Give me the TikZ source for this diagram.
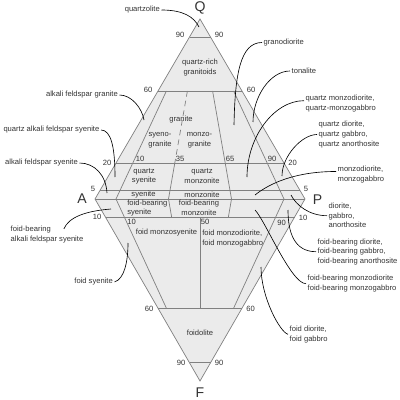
\documentclass[tikz,border=0pt]{standalone}
\usepackage{fontspec}
\setmainfont{Liberation Sans}
\usepackage{xcolor}
\usetikzlibrary{calc}

\definecolor{fieldfill}{HTML}{EBEBEB}
\definecolor{fieldline}{HTML}{808080}
\definecolor{labeltext}{HTML}{333333}

\begin{document}
\begin{tikzpicture}[
  x=0.025cm, y=-0.025cm,
  field/.style={font=\fontsize{5.4}{6.8}\selectfont, text=labeltext, align=center, inner sep=0pt},
  rock/.style={font=\fontsize{5.4}{6.8}\selectfont, text=labeltext, align=left, inner sep=1pt},
  num/.style={font=\fontsize{5.4}{6.8}\selectfont, text=labeltext, inner sep=0pt},
  apex/.style={font=\fontsize{10}{12}\selectfont, text=labeltext, inner sep=0pt},
  bound/.style={draw=fieldline, line width=0.5pt},
  lead/.style={draw=black, line width=0.45pt}
]

\useasboundingbox (0,0) rectangle (400,400);

% Corners of the double triangle
\coordinate (Q) at (200,19);
\coordinate (A) at (95,199);
\coordinate (P) at (305,199);
\coordinate (F) at (200,381);

% P/(A+P) points on the A-P line
\coordinate (b10) at ($(A)!0.10!(P)$);
\coordinate (b35) at ($(A)!0.35!(P)$);
\coordinate (b50) at ($(A)!0.50!(P)$);
\coordinate (b65) at ($(A)!0.65!(P)$);
\coordinate (b90) at ($(A)!0.90!(P)$);

\fill[fieldfill] (Q) -- (A) -- (F) -- (P) -- cycle;

% Q and F levels
\draw[bound] ($(Q)!0.10!(A)$) -- ($(Q)!0.10!(P)$);
\draw[bound] ($(Q)!0.40!(A)$) -- ($(Q)!0.40!(P)$);
\draw[bound] ($(Q)!0.80!(A)$) -- ($(Q)!0.80!(P)$);
\draw[bound] ($(Q)!0.95!(A)$) -- ($(Q)!0.95!(P)$);
\draw[bound] (A) -- (P);
\draw[bound] ($(F)!0.90!(A)$) -- ($(F)!0.90!(P)$);
\draw[bound] ($(F)!0.40!(A)$) -- ($(F)!0.40!(P)$);
\draw[bound] ($(F)!0.10!(A)$) -- ($(F)!0.10!(P)$);

% P/(A+P) divisions
\draw[bound] ($(Q)!0.4!(b10)$) -- (b10) -- ($(F)!0.4!(b10)$);
\draw[bound, dash pattern={on 4pt off 3pt}] ($(Q)!0.4!(b35)$) -- ($(Q)!0.8!(b35)$);
\draw[bound] ($(Q)!0.8!(b35)$) -- (b35) -- ($(F)!0.9!(b35)$);
\draw[bound] ($(Q)!0.4!(b65)$) -- (b65) -- ($(F)!0.9!(b65)$);
\draw[bound] ($(Q)!0.4!(b90)$) -- (b90) -- ($(F)!0.4!(b90)$);
\draw[bound] ($(F)!0.9!(b50)$) -- ($(F)!0.4!(b50)$);

\draw[bound] (Q) -- (A) -- (F) -- (P) -- cycle;

% Corner letters
\node[apex] (lQ) at (200,7.5) {Q};
\node[apex] (lA) at (82,199) {A};
\node[apex] (lP) at (317.5,199.5) {P};
\node[apex] (lF) at (200,392.5) {F};

% Scale values
\node[num] (q90l) at (180,35) {90};
\node[num] (q90r) at (219,35) {90};
\node[num] (q60l) at (148,90) {60};
\node[num] (q60r) at (251,89.5) {60};
\node[num] (q20l) at (107,163) {20};
\node[num] (q20r) at (292.5,163) {20};
\node[num] (q5l) at (93,189) {5};
\node[num] (q5r) at (306,189) {5};
\node[num] (f10l) at (97,217) {10};
\node[num] (f10r) at (303,218) {10};
\node[num] (f60l) at (149,309) {60};
\node[num] (f60r) at (250.5,309) {60};
\node[num] (f90l) at (181,363) {90};
\node[num] (f90r) at (219,363) {90};
\node[num] (r10u) at (140,158.5) {10};
\node[num] (r35u) at (180,158.5) {35};
\node[num] (r65u) at (230,159) {65};
\node[num] (r90u) at (272,159) {90};
\node[num] (r10d) at (131.5,221.5) {10};
\node[num] (r50d) at (205,221.5) {50};
\node[num] (r90d) at (281.5,222.5) {90};

% Field names
\node[field] (quartzrich) at (200,67.5) {quartz-rich\\granitoids};
\node[field] (granite) at (181,120) {granite};
\node[field] (syenogranite) at (160,140) {syeno-\\granite};
\node[field] (monzogranite) at (199.5,140) {monzo-\\granite};
\node[field] (qsyenite) at (144,176.5) {quartz\\syenite};
\node[field] (qmonzonite) at (202,176) {quartz\\monzonite};
\node[field] (syenite) at (143.5,194.5) {syenite};
\node[field] (monzonite) at (202,194.5) {monzonite};
\node[field, align=left, anchor=west] (fbsyenite) at (127,208) {foid-bearing\\syenite};
\node[field] (fbmonzonite) at (199,208) {foid-bearing\\monzonite};
\node[field] (foidmonzosyenite) at (166.5,232.5) {foid monzosyenite};
\node[field, align=left, anchor=west] (foidmonzodiorite) at (202,238.3) {foid monzodiorite,\\foid monzogabbro};
\node[field] (foidolite) at (200,332.5) {foidolite};

% Rock names outside
\node[rock, anchor=east] (quartzolite) at (161.5,10) {quartzolite};
\node[rock, anchor=east] (afgranite) at (119.5,95) {alkali feldspar granite};
\node[rock, anchor=east] (qafsyenite) at (101,130) {quartz alkali feldspar syenite};
\node[rock, anchor=east] (afsyenite) at (79.5,163) {alkali feldspar syenite};
\node[rock, anchor=west] (fbafsyenite) at (9,234.7) {foid-bearing\\alkali feldspar syenite};
\node[rock, anchor=east] (foidsyenite) at (114.5,282) {foid syenite};

\node[rock, anchor=west] (granodiorite) at (262,42.5) {granodiorite};
\node[rock, anchor=west] (tonalite) at (290,71) {tonalite};
\node[rock, anchor=west] (qmonzodiorite) at (304,103.5) {quartz monzodiorite,\\quartz-monzogabbro};
\node[rock, anchor=west] (qdiorite) at (317,134.5) {quartz diorite,\\quartz gabbro,\\quartz anorthosite};
\node[rock, anchor=west] (monzodiorite) at (336,174.3) {monzodiorite,\\monzogabbro};
\node[rock, anchor=west] (diorite) at (327,215.7) {diorite,\\gabbro,\\anorthosite};
\node[rock, anchor=west] (fbdiorite) at (316,251.7) {foid-bearing diorite,\\foid-bearing gabbro,\\foid-bearing anorthosite};
\node[rock, anchor=west] (fbmonzodiorite) at (306,283.7) {foid-bearing monzodiorite\\foid-bearing monzogabbro};
\node[rock, anchor=west] (foiddiorite) at (288,334.3) {foid diorite,\\foid gabbro};

% Points inside the fields
\coordinate (cquartzolite) at (199,27);
\coordinate (cafgranite) at (144,120);
\coordinate (cqafsyenite) at (115,177);
\coordinate (cafsyenite) at (107,193);
\coordinate (cfbafsyenite) at (111,209);
\coordinate (cfoidsyenite) at (128,243);
\coordinate (cgranodiorite) at (234,125);
\coordinate (ctonalite) at (253,122);
\coordinate (cqmonzodiorite) at (247,177);
\coordinate (cqdiorite) at (282,176);
\coordinate (cmonzodiorite) at (255,195);
\coordinate (cdiorite) at (291,195);
\coordinate (cfbdiorite) at (288,210);
\coordinate (cfbmonzodiorite) at (255,210);
\coordinate (cfoiddiorite) at (261,267);

% Leaders
\draw[lead] (quartzolite.east) .. controls +(22,0) and +(-5,-10) .. (cquartzolite);
\draw[lead] (afgranite.east) .. controls +(12,0) and +(-2,-12) .. (cafgranite);
\draw[lead] (qafsyenite.east) .. controls +(10,0) and +(0,-30) .. (cqafsyenite);
\draw[lead] (afsyenite.east) .. controls +(15,0) and +(-1,-18) .. (cafsyenite);
\draw[lead] ([xshift=12pt,yshift=-3pt]fbafsyenite.north) .. controls +(5,-12) and +(-25,2) .. (cfbafsyenite);
\draw[lead] (foidsyenite.east) .. controls +(10,-3) and +(0,18) .. (cfoidsyenite);

\draw[lead] (granodiorite.west) .. controls +(-22,0) and +(1,-50) .. (cgranodiorite);
\draw[lead] (tonalite.west) .. controls +(-20,0) and +(0,-25) .. (ctonalite);
\draw[lead] ([yshift=2pt]qmonzodiorite.west) .. controls +(-30,0) and +(0,-40) .. (cqmonzodiorite);
\draw[lead] (qdiorite.west) .. controls +(-15,0) and +(0,-20) .. (cqdiorite);
\draw[lead] ([yshift=2pt]monzodiorite.west) .. controls +(-40,0) and +(15,-12) .. (cmonzodiorite);
\draw[lead] (diorite.west) .. controls +(-18,0) and +(5,10) .. (cdiorite);
\draw[lead] (fbdiorite.west) .. controls +(-22,0) and +(0,22) .. (cfbdiorite);
\draw[lead] (fbmonzodiorite.west) .. controls +(-15,0) and +(10,10) .. (cfbmonzodiorite);
\draw[lead] (foiddiorite.west) .. controls +(-8,-2) and +(0,30) .. (cfoiddiorite);

\end{tikzpicture}
\end{document}
